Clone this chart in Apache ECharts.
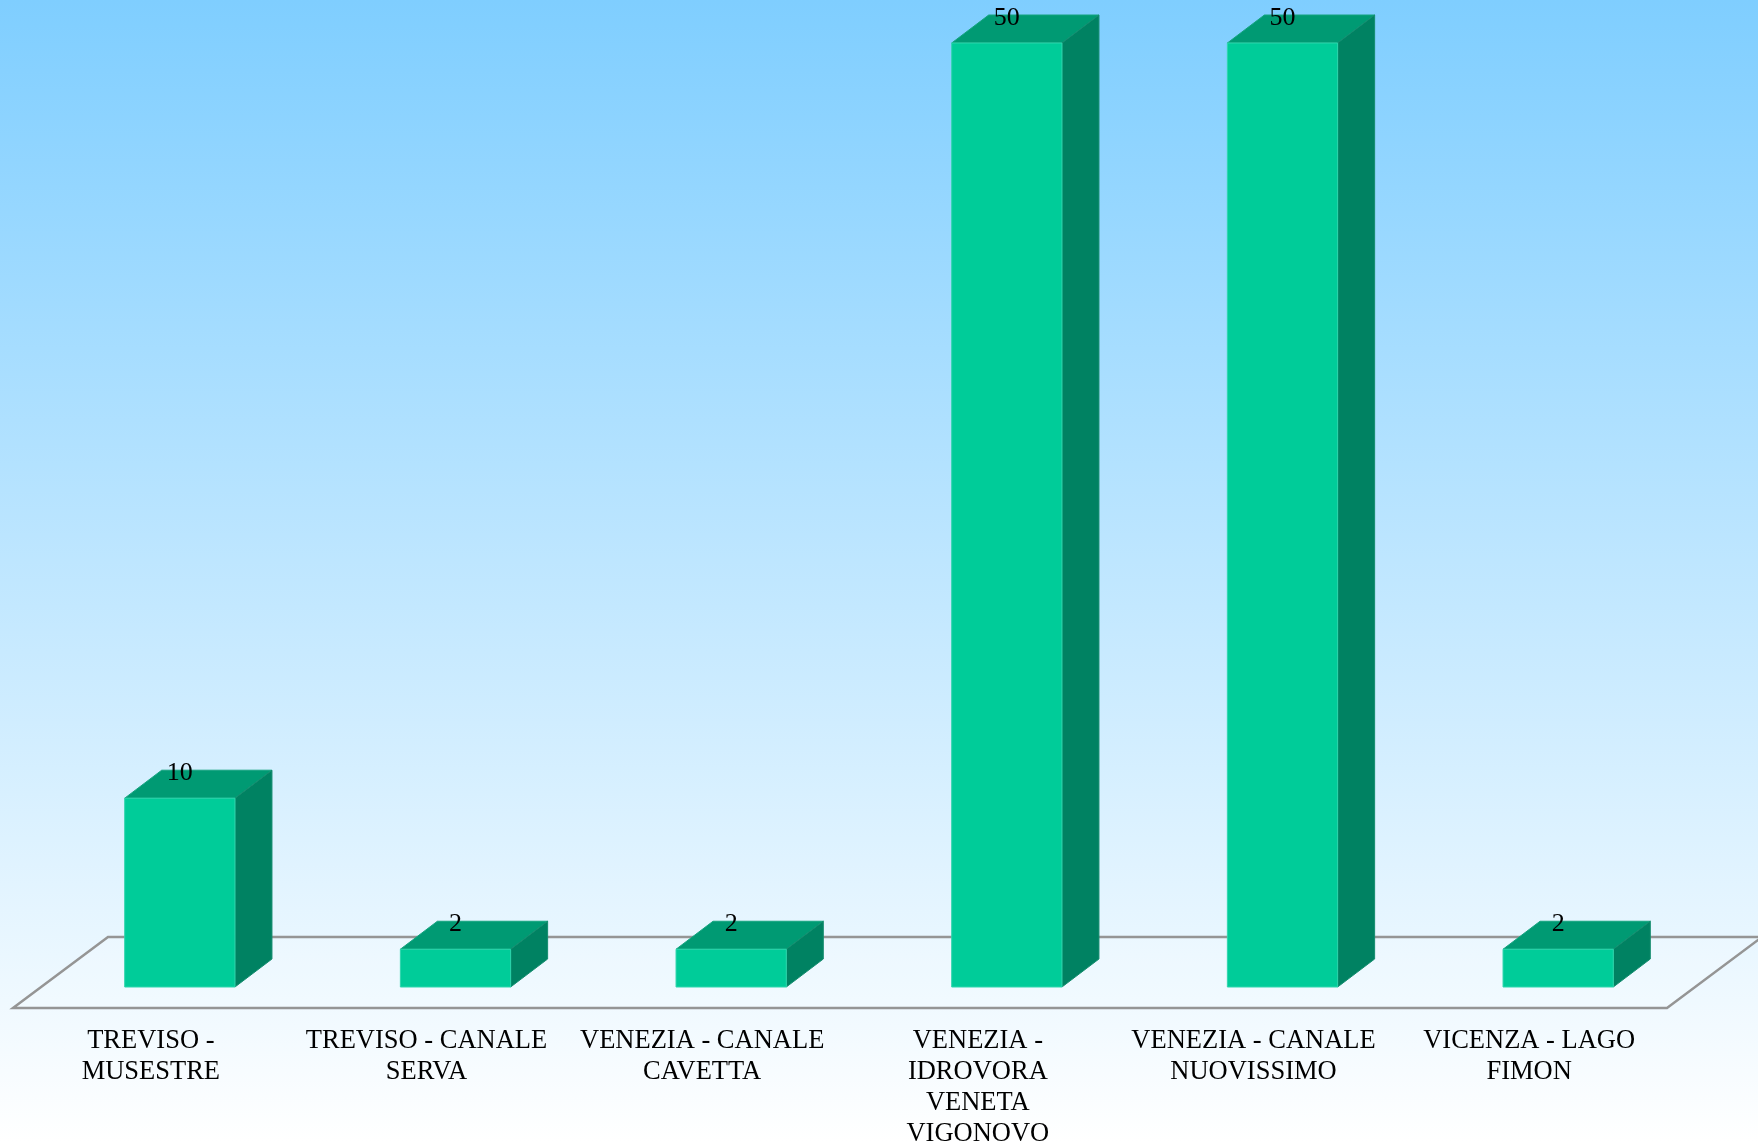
<!DOCTYPE html>
<html>
<head>
<meta charset="utf-8">
<script src="https://cdn.jsdelivr.net/npm/echarts@6/dist/echarts.min.js"></script>
<style>
  html, body { margin: 0; padding: 0; overflow: hidden; }
  #chart {
    width: 1758px; height: 1142px;
    background: linear-gradient(to bottom, #7fceff 0%, #ffffff 100%);
  }
</style>
</head>
<body>
<div id="chart"></div>
<script>
const categories = [
  'TREVISO - MUSESTRE',
  'TREVISO - CANALE SERVA',
  'VENEZIA - CANALE CAVETTA',
  'VENEZIA - IDROVORA VENETA VIGONOVO',
  'VENEZIA - CANALE NUOVISSIMO',
  'VICENZA - LAGO FIMON'
];
const tickLabels = [
  'TREVISO -\nMUSESTRE',
  'TREVISO - CANALE\nSERVA',
  'VENEZIA - CANALE\nCAVETTA',
  'VENEZIA -\nIDROVORA\nVENETA\nVIGONOVO',
  'VENEZIA - CANALE\nNUOVISSIMO',
  'VICENZA - LAGO\nFIMON'
];
const values = [10, 2, 2, 50, 50, 2];

const chart = echarts.init(document.getElementById('chart'), null, { renderer: 'canvas' });

const FONT = '"Liberation Serif", "Times New Roman", serif';
const FLOOR_DX = 95, FLOOR_DY = -71;
const BAR_OX = 29, BAR_OY = -21;
const DEPTH_DX = 37, DEPTH_DY = -28;

function renderFloor(params, api) {
  const band = api.size([1, 0])[0];
  const first = api.coord([0, 0]);
  const last = api.coord([categories.length - 1, 0]);
  const xl = first[0] - band / 2, xr = last[0] + band / 2, y = first[1];
  return {
    type: 'polygon',
    shape: { points: [[xl, y], [xr, y], [xr + FLOOR_DX, y + FLOOR_DY], [xl + FLOOR_DX, y + FLOOR_DY]] },
    style: { fill: 'rgba(255,255,255,0.15)', stroke: '#959595', lineWidth: 2.5 }
  };
}

function renderBar(params, api) {
  const idx = api.value(0);
  const base = api.coord([idx, 0]);
  const top = api.coord([idx, api.value(1)]);
  const band = api.size([1, 0])[0];
  const w = band * 0.4;
  const cx = base[0] + BAR_OX;
  const x0 = cx - w / 2, x1 = cx + w / 2;
  const yb = base[1] + BAR_OY, yt = top[1] + BAR_OY;
  return {
    type: 'group',
    children: [
      {
        type: 'polygon',
        shape: { points: [[x0, yt], [x1, yt], [x1 + DEPTH_DX, yt + DEPTH_DY], [x0 + DEPTH_DX, yt + DEPTH_DY]] },
        style: { fill: '#009a73', stroke: '#14a37f', lineWidth: 1 }
      },
      {
        type: 'polygon',
        shape: { points: [[x1, yt], [x1 + DEPTH_DX, yt + DEPTH_DY], [x1 + DEPTH_DX, yb + DEPTH_DY], [x1, yb]] },
        style: { fill: '#008262', stroke: '#148c6e', lineWidth: 1 }
      },
      {
        type: 'rect',
        shape: { x: x0, y: yt, width: w, height: yb - yt },
        style: { fill: '#00cc99', stroke: '#2ed6ad', lineWidth: 1 }
      },
      {
        type: 'text',
        x: cx, y: yt - 25,
        style: {
          text: String(api.value(1)),
          fill: '#000', font: '26px ' + FONT,
          align: 'center', verticalAlign: 'middle'
        }
      }
    ]
  };
}

chart.setOption({
  backgroundColor: 'transparent',
  animation: false,
  grid: { left: 13, right: 91, top: 64, bottom: 134, containLabel: false, outerBoundsMode: 'none' },
  xAxis: {
    type: 'category',
    data: categories,
    axisLine: { show: false },
    axisTick: { show: false },
    splitLine: { show: false },
    axisLabel: {
      interval: 0,
      margin: 18,
      color: '#000',
      fontFamily: FONT,
      fontSize: 26.5,
      lineHeight: 31,
      align: 'center',
      hideOverlap: false,
      formatter: (v, i) => tickLabels[i]
    }
  },
  yAxis: {
    type: 'value', min: 0, max: 50, show: false,
    splitLine: { show: false }
  },
  series: [
    {
      type: 'custom',
      renderItem: renderFloor,
      data: [[0, 0]],
      encode: { x: 0, y: 1 },
      z: 1,
      silent: true
    },
    {
      type: 'custom',
      renderItem: renderBar,
      data: values.map((v, i) => [i, v]),
      encode: { x: 0, y: 1 },
      z: 2
    }
  ]
});
</script>
</body>
</html>
